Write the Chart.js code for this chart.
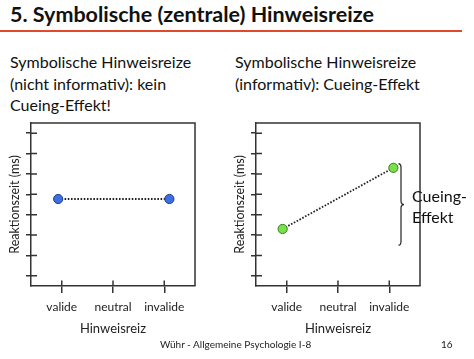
<!DOCTYPE html>
<html>
<head>
<meta charset="utf-8">
<script src="https://cdn.jsdelivr.net/npm/chart.js@4/dist/chart.umd.min.js"></script>
<style>
  html, body { margin:0; padding:0; background:#fff; }
  body { width:474px; height:359px; position:relative; overflow:hidden; font-family: Lato, "Open Sans", sans-serif; color:#111; }
  .t { position:absolute; white-space:nowrap; }
  #title { left:10px; top:1px; font-size:21.5px; font-weight:bold; line-height:26px; }
  #rule { position:absolute; left:0; top:30px; width:462px; height:2.2px; background:#e04a2a; }
  .sub { font-size:16px; line-height:21.7px; }
  #subL { left:10px; top:51px; }
  #subR { left:235px; top:51px; }
  #cue { left:412px; top:186px; font-size:16px; line-height:20.5px; }
  #foot { left:160px; top:338px; font-size:10px; line-height:13px; color:#222; }
  #page { left:441px; top:338px; font-size:10px; line-height:13px; color:#222; }
  .cw { position:absolute; top:115px; width:237px; height:225px; }
</style>
</head>
<body>
<div id="title" class="t">5. Symbolische (zentrale) Hinweisreize</div>
<div id="rule"></div>
<div id="subL" class="t sub">Symbolische Hinweisreize<br>(nicht informativ): kein<br>Cueing-Effekt!</div>
<div id="subR" class="t sub">Symbolische Hinweisreize<br>(informativ): Cueing-Effekt</div>
<div class="cw" style="left:0px"><canvas id="cL"></canvas></div>
<div class="cw" style="left:225px"><canvas id="cR"></canvas></div>
<div id="cue" class="t">Cueing-<br>Effekt</div>
<div id="foot" class="t">Wühr - Allgemeine Psychologie I-8</div>
<div id="page" class="t">16</div>
<script>
// ---- data ----
const categories = ["valide", "neutral", "invalide"];
const yTickValues = [0.5, 1.5, 2.5, 3.5, 4.5, 5.5, 6.5, 7.5];
// left panel (nicht informativ): x positions (category index) and reaction time (arbitrary units)
const leftX = [-0.07, 2.1];
const leftRT = [4.27, 4.27];
// right panel (informativ)
const rightX = [-0.08, 2.08];
const rightRT = [2.8, 5.8];
// extent of the "Cueing-Effekt" brace (y values)
const braceRange = [2.0, 6.0];

const AX = '#333';

const innerTicks = {
  id: 'innerTicks',
  afterDraw(chart) {
    const {ctx, chartArea: a, scales} = chart;
    ctx.save();
    ctx.strokeStyle = AX;
    ctx.lineWidth = 1.5;
    ctx.beginPath();
    scales.y.ticks.forEach(t => {
      const y = scales.y.getPixelForValue(t.value);
      ctx.moveTo(a.left, y); ctx.lineTo(a.left + 6, y);
    });
    scales.x.ticks.forEach(t => {
      const x = scales.x.getPixelForValue(t.value);
      ctx.moveTo(x, a.bottom); ctx.lineTo(x, a.bottom - 5.5);
    });
    ctx.stroke();
    ctx.beginPath();
    ctx.moveTo(a.left, a.top); ctx.lineTo(a.right, a.top); ctx.lineTo(a.right, a.bottom);
    ctx.stroke();
    ctx.restore();
  }
};

const bracePlugin = {
  id: 'brace',
  afterDraw(chart, args, opts) {
    if (!opts || !opts.range) return;
    const {ctx, chartArea: a, scales} = chart;
    const top = scales.y.getPixelForValue(opts.range[1]);
    const bot = scales.y.getPixelForValue(opts.range[0]);
    const mid = (top + bot) / 2;
    const x = a.right - 19;
    ctx.save();
    ctx.strokeStyle = AX;
    ctx.lineWidth = 1.3;
    ctx.beginPath();
    ctx.moveTo(x - 2.5, top);
    ctx.quadraticCurveTo(x, top, x, top + 4);
    ctx.lineTo(x, mid - 4);
    ctx.quadraticCurveTo(x, mid, x + 3, mid);
    ctx.quadraticCurveTo(x, mid, x, mid + 4);
    ctx.lineTo(x, bot - 4);
    ctx.quadraticCurveTo(x, bot, x - 2.5, bot);
    ctx.stroke();
    ctx.restore();
  }
};

function makeChart(id, xs, ys, fill, border, brace) {
  const data = xs.map((x, i) => ({x: x, y: ys[i]}));
  return new Chart(document.getElementById(id), {
    type: 'scatter',
    data: { datasets: [{
      data: data,
      showLine: true,
      borderColor: '#222',
      borderWidth: 1.8,
      borderDash: [1.6, 1.6],
      pointRadius: 4.6,
      pointBackgroundColor: fill,
      pointBorderColor: border,
      pointBorderWidth: 1,
      pointHoverRadius: 4.6
    }]},
    options: {
      responsive: true,
      maintainAspectRatio: false,
      animation: false,
      events: [],
      layout: { padding: { left: 0, top: 8, right: 42, bottom: 0 } },
      plugins: { legend: { display: false }, tooltip: { enabled: false }, brace: brace ? { range: brace } : false },
      scales: {
        x: {
          type: 'linear', min: -0.6, max: 2.6,
          afterBuildTicks: s => { s.ticks = categories.map((c, i) => ({value: i})); },
          afterFit: s => { s.height = 54; },
          ticks: { callback: v => categories[v] ?? '', color: '#222', font: { family: 'Lato', size: 12 }, padding: 7, maxRotation: 0, autoSkip: false },
          grid: { drawOnChartArea: false, drawTicks: true, tickLength: 7, color: AX, lineWidth: 1.5 },
          border: { display: true, color: AX, width: 1.5 },
          title: { display: true, text: 'Hinweisreiz', color: '#222', font: { family: 'Lato', size: 13 }, padding: { top: 0, bottom: 3.5 } }
        },
        y: {
          type: 'linear', min: 0, max: 8,
          afterBuildTicks: s => { s.ticks = yTickValues.map(v => ({value: v})); },
          afterFit: s => { s.width = 31; },
          ticks: { display: false },
          grid: { drawOnChartArea: false, drawTicks: true, tickLength: 5, color: AX, lineWidth: 1.5 },
          border: { display: true, color: AX, width: 1.5 },
          title: { display: true, text: 'Reaktionszeit (ms)', color: '#222', font: { family: 'Lato', size: 12.5 }, padding: { top: 7.5, bottom: 0 } }
        }
      }
    },
    plugins: [innerTicks, bracePlugin]
  });
}

makeChart('cL', leftX, leftRT, '#3d6fe0', '#1d3b8c', null);
makeChart('cR', rightX, rightRT, '#78e048', '#3b7d22', braceRange);
</script>
</body>
</html>
